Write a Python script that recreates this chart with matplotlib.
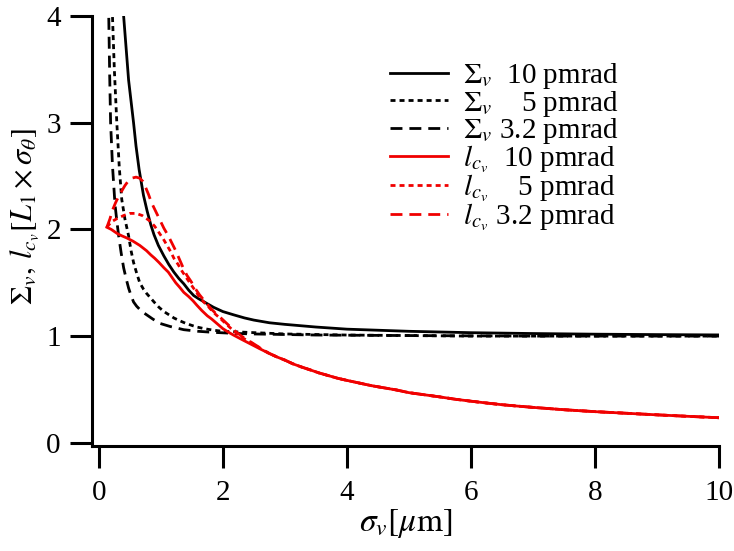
import matplotlib
matplotlib.use("Agg")
import matplotlib.pyplot as plt

plt.rcParams["font.family"] = ["Liberation Serif", "DejaVu Serif"]
plt.rcParams["mathtext.fontset"] = "stix"
plt.rcParams["lines.scale_dashes"] = False

# Sigma_v, 10 pmrad
sig_s10 = [0.30, 0.35, 0.40, 0.44, 0.48, 0.52, 0.56, 0.60, 0.65, 0.72, 0.78, 0.84, 0.89,
           0.96, 1.05, 1.13, 1.21, 1.29, 1.37, 1.45, 1.53, 1.61, 1.70, 1.85, 2.00, 2.17,
           2.35, 2.50, 2.75, 3.00, 3.50, 4.00, 4.50, 5.00, 6.00, 7.00, 8.00, 9.00, 10.0]
val_s10 = [5.20, 4.50, 4.00, 3.70, 3.40, 3.20, 3.00, 2.78, 2.56, 2.32, 2.17, 2.04, 1.95,
           1.85, 1.75, 1.67, 1.60, 1.54, 1.49, 1.43, 1.38, 1.35, 1.32, 1.27, 1.23, 1.20,
           1.17, 1.15, 1.125, 1.11, 1.085, 1.065, 1.055, 1.045, 1.032, 1.024, 1.018, 1.014, 1.011]

# Sigma_v, 5 pmrad
sig_s5 = [0.18, 0.20, 0.22, 0.25, 0.29, 0.33, 0.37, 0.42, 0.48, 0.52, 0.56, 0.61, 0.66,
          0.72, 0.77, 0.83, 0.89, 0.97, 1.05, 1.13, 1.21, 1.30, 1.40, 1.50, 1.58, 1.70,
          1.85, 2.00, 2.20, 2.60, 3.00, 4.00, 5.00, 6.00, 8.00, 10.0]
val_s5 = [5.20, 4.60, 4.00, 3.50, 3.00, 2.58, 2.28, 2.10, 1.94, 1.80, 1.69, 1.59, 1.50,
          1.44, 1.40, 1.36, 1.32, 1.27, 1.23, 1.20, 1.17, 1.145, 1.12, 1.10, 1.085, 1.07,
          1.055, 1.045, 1.04, 1.03, 1.02, 1.01, 1.005, 1.0, 1.0, 1.0]

# Sigma_v, 3.2 pmrad
sig_s32 = [0.13, 0.145, 0.16, 0.175, 0.19, 0.22, 0.26, 0.29, 0.32, 0.36, 0.40, 0.44,
           0.48, 0.52, 0.56, 0.61, 0.66, 0.72, 0.77, 0.87, 0.98, 1.15, 1.37, 1.60, 1.85,
           2.20, 2.50, 3.50, 5.00, 7.00, 10.0]
val_s32 = [5.20, 4.50, 4.00, 3.45, 3.00, 2.60, 2.24, 2.08, 1.94, 1.78, 1.64, 1.54,
           1.45, 1.38, 1.32, 1.28, 1.25, 1.22, 1.20, 1.16, 1.12, 1.09, 1.06, 1.045, 1.035,
           1.025, 1.02, 1.01, 1.005, 1.0, 1.0]

# l_cv, common tail of the three emittances (sigma_v >= 2.74)
sig_tail = [2.74, 2.87, 3.00, 3.13, 3.27, 3.40, 3.55, 3.70, 3.85, 4.00, 4.20, 4.40, 4.60,
            4.80, 5.00, 5.25, 5.50, 5.75, 6.00, 6.25, 6.50, 6.75, 7.00, 7.50, 8.00, 8.50,
            9.00, 9.50, 10.0]
lc_tail = [0.84, 0.805, 0.775, 0.74, 0.71, 0.685, 0.655, 0.63, 0.605, 0.585, 0.56, 0.535,
           0.515, 0.495, 0.47, 0.45, 0.43, 0.408, 0.39, 0.373, 0.357, 0.344, 0.332, 0.31,
           0.292, 0.277, 0.262, 0.248, 0.235]

# l_cv, 10 pmrad (sigma_v < 2.74)
sig_l10 = [0.13, 0.20, 0.30, 0.37, 0.45, 0.55, 0.66, 0.77, 0.84, 0.90, 0.97, 1.05, 1.12,
           1.18, 1.24, 1.30, 1.37, 1.45, 1.52, 1.58, 1.66, 1.75, 1.82, 1.90, 2.00, 2.08,
           2.17, 2.30, 2.45, 2.60]
val_l10 = [2.02, 2.00, 1.96, 1.94, 1.92, 1.89, 1.85, 1.80, 1.76, 1.73, 1.69, 1.64, 1.60,
           1.55, 1.50, 1.46, 1.41, 1.37, 1.33, 1.29, 1.24, 1.19, 1.16, 1.12, 1.07, 1.04,
           1.01, 0.97, 0.925, 0.88]

# l_cv, 5 pmrad (sigma_v < 2.74)
sig_l5 = [0.13, 0.20, 0.29, 0.40, 0.50, 0.60, 0.70, 0.82, 0.90, 0.97, 1.04, 1.10, 1.16,
          1.21, 1.28, 1.34, 1.42, 1.49, 1.55, 1.62, 1.69, 1.76, 1.82, 1.89, 1.95, 2.06,
          2.17, 2.30, 2.45, 2.60]
val_l5 = [2.02, 2.07, 2.10, 2.13, 2.15, 2.15, 2.13, 2.08, 2.03, 1.97, 1.91, 1.85, 1.79,
          1.73, 1.67, 1.61, 1.54, 1.48, 1.43, 1.37, 1.32, 1.28, 1.24, 1.20, 1.17, 1.11,
          1.05, 0.99, 0.94, 0.885]

# l_cv, 3.2 pmrad (sigma_v < 2.74)
sig_l32 = [0.13, 0.18, 0.22, 0.27, 0.32, 0.37, 0.42, 0.47, 0.53, 0.60, 0.66, 0.71, 0.75,
           0.80, 0.85, 0.90, 0.95, 1.00, 1.05, 1.12, 1.18, 1.24, 1.30, 1.36, 1.42, 1.49,
           1.55, 1.62, 1.69, 1.76, 1.82, 1.89, 1.95, 2.06, 2.17, 2.30, 2.45, 2.60]
val_l32 = [2.02, 2.10, 2.18, 2.25, 2.31, 2.36, 2.41, 2.45, 2.48, 2.49, 2.48, 2.45, 2.40,
           2.33, 2.25, 2.19, 2.13, 2.07, 2.01, 1.94, 1.87, 1.80, 1.72, 1.64, 1.57, 1.51,
           1.45, 1.39, 1.34, 1.29, 1.25, 1.21, 1.18, 1.12, 1.06, 1.00, 0.945, 0.89]

labels = [r"$\Sigma_v$  10 pmrad", r"$\Sigma_v$    5 pmrad", r"$\Sigma_v$ 3.2 pmrad",
          r"$l_{c_v}$  10 pmrad", r"$l_{c_v}$    5 pmrad", r"$l_{c_v}$ 3.2 pmrad"]

FS = 21
LW = 2.0
RED = "#f00000"
dotted = (0, (3.6, 2.9))
dashed = (0, (8.6, 5.0))

fig = plt.figure(figsize=(7.34, 5.51), dpi=100)
ax = fig.add_axes([92 / 734, 1 - 446 / 551, (719 - 92) / 734, (446 - 16) / 551])

ax.plot(sig_s10, val_s10, color="black", lw=LW, ls="-", label=labels[0])
ax.plot(sig_s5, val_s5, color="black", lw=LW, ls=dotted, label=labels[1])
ax.plot(sig_s32, val_s32, color="black", lw=LW, ls=dashed, label=labels[2])
ax.plot(sig_l10 + sig_tail, val_l10 + lc_tail, color=RED, lw=LW, ls="-", label=labels[3])
ax.plot(sig_l5 + sig_tail, val_l5 + lc_tail, color=RED, lw=LW, ls=dotted, label=labels[4])
ax.plot(sig_l32 + sig_tail, val_l32 + lc_tail, color=RED, lw=LW, ls=dashed, label=labels[5])

ax.set_xlim(-0.11, 10)
ax.set_ylim(-0.03, 4)
ax.set_xticks([0, 2, 4, 6, 8, 10])
ax.set_yticks([0, 1, 2, 3, 4])
for s in ["top", "right"]:
    ax.spines[s].set_visible(False)
for s in ["left", "bottom"]:
    ax.spines[s].set_linewidth(2.2)
ax.tick_params(direction="out", length=15.5, width=2.2, labelsize=FS, pad=7)
ax.tick_params(axis="x", pad=9)

ax.set_xlabel(r"$\sigma_v[\mu\mathrm{m}]$", fontsize=24, labelpad=1)
ax.set_ylabel(r"$\Sigma_v,\, l_{c_v}[L_1 \times \sigma_\theta]$", fontsize=22)
ax.yaxis.set_label_coords(-0.082, (446 - 217) / 430)

ax.legend(loc="upper left", bbox_to_anchor=(390 / 734, 1 - 61 / 551),
          bbox_transform=fig.transFigure, frameon=False, fontsize=FS,
          handlelength=2.0, handletextpad=0.5, labelspacing=-0.08,
          borderpad=0, borderaxespad=0)

fig.savefig("out.png", dpi=100)
